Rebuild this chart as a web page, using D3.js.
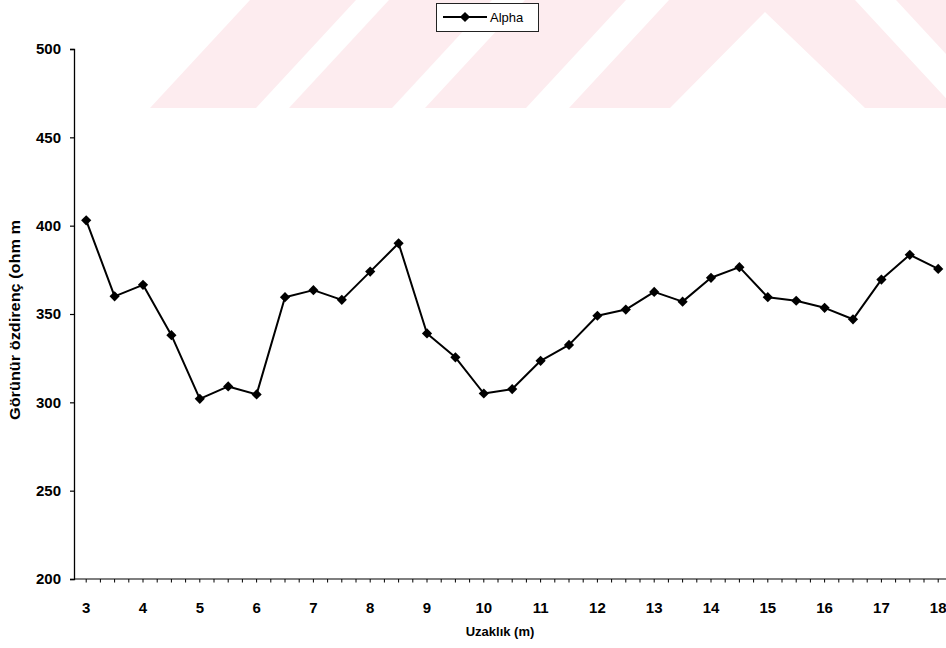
<!DOCTYPE html>
<html>
<head>
<meta charset="utf-8">
<script src="https://cdn.jsdelivr.net/npm/d3@7"></script>
<style>
  html, body { margin: 0; padding: 0; background: #fff; }
  svg { display: block; }
  text { font-family: "Liberation Sans", Arial, sans-serif; fill: #000; }
</style>
</head>
<body>
<script>
// Apparent resistivity profile along the survey line (Alpha array)
const distances = ["3","3.5","4","4.5","5","5.5","6","6.5","7","7.5","8","8.5","9","9.5","10","10.5",
                   "11","11.5","12","12.5","13","13.5","14","14.5","15","15.5","16","16.5","17","17.5","18"];
const alphaValues = [403, 360, 366.5, 338, 302, 309, 304.5, 359.5, 363.5, 358, 374, 390, 339, 325.5, 305, 307.5,
                     323.5, 332.5, 349, 352.5, 362.5, 357, 370.5, 376.5, 359.5, 357.5, 353.5, 347, 369.5, 383.5, 375.5];
const xTickLabels = ["3","4","5","6","7","8","9","10","11","12","13","14","15","16","17","18"];
const yTickValues = [200, 250, 300, 350, 400, 450, 500];
const seriesName = "Alpha";
const xTitle = "Uzaklık (m)";
const yTitle = "Görünür özdirenç (ohm m";

const W = 946, H = 648;
const svg = d3.select("body").append("svg").attr("width", W).attr("height", H);

// faint pink band with diagonal stripes across the top
const band = svg.append("g").attr("fill", "#fdecef");
const bandShapes = [
  [[150,108],[256,108],[356,0],[250,0]],
  [[289,108],[392,108],[492,0],[389,0]],
  [[425,108],[526,108],[626,0],[525,0]],
  [[569,108],[670,108],[765,12],[865,108],[955,108],[855,0],[669,0]],
  [[896,0],[1000,0],[1000,108],[996,108]]
];
band.selectAll("path").data(bandShapes).join("path")
  .attr("d", d => "M" + d.map(p => p.join(",")).join("L") + "Z");

// scales
const x = d3.scaleBand().domain(distances).range([72, 72 + 28.4 * distances.length]);
const y = d3.scaleLinear().domain([200, 500]).range([579, 49]);
const cx = d => x(d) + x.bandwidth() / 2;

// y axis
const yAxis = svg.append("g").attr("transform", "translate(74,0)")
  .call(d3.axisLeft(y).tickValues(yTickValues).tickSize(4).tickPadding(9));
yAxis.select(".domain").attr("stroke", "#000").attr("stroke-width", 1.3);
yAxis.selectAll(".tick line").attr("stroke", "#000").attr("stroke-width", 1.2);
yAxis.selectAll(".tick text")
  .attr("font-size", 15).attr("font-weight", "bold")
  .attr("font-family", "'Liberation Sans', Arial, sans-serif")
  .attr("fill", "#000");

// x axis: ticks at every band edge and center, labels on whole metres
const halfSteps = [];
distances.forEach(d => { halfSteps.push(x(d)); halfSteps.push(x(d) + x.bandwidth() / 2); });
const xg = svg.append("g");
xg.append("line").attr("x1", 74).attr("x2", W).attr("y1", 579).attr("y2", 579)
  .attr("stroke", "#000").attr("stroke-width", 1.2);
xg.selectAll("line.t").data(halfSteps.filter(v => v > 75 && v < W)).join("line")
  .attr("class", "t").attr("x1", d => d).attr("x2", d => d)
  .attr("y1", 579).attr("y2", 582.5).attr("stroke", "#000").attr("stroke-width", 1);
xg.selectAll("text").data(xTickLabels).join("text")
  .attr("x", d => cx(d)).attr("y", 613)
  .attr("text-anchor", "middle").attr("font-size", 15).attr("font-weight", "bold")
  .text(d => d);

// axis titles
svg.append("text").attr("x", 500).attr("y", 636).attr("text-anchor", "middle")
  .attr("font-size", 13).attr("font-weight", "bold").text(xTitle);
svg.append("text").attr("transform", "translate(20,320) rotate(-90)")
  .attr("text-anchor", "middle").attr("font-size", 14).attr("font-weight", "bold")
  .attr("textLength", 200).attr("lengthAdjust", "spacingAndGlyphs").text(yTitle);

// series line and markers
const pts = distances.map((d, i) => ({ d, v: alphaValues[i] }));
svg.append("path").datum(pts)
  .attr("fill", "none").attr("stroke", "#000").attr("stroke-width", 2)
  .attr("stroke-linejoin", "round")
  .attr("d", d3.line().x(p => cx(p.d)).y(p => y(p.v)));
const marker = d3.symbol(d3.symbolSquare, 52);
svg.selectAll("path.m").data(pts).join("path")
  .attr("class", "m").attr("fill", "#000")
  .attr("transform", p => `translate(${cx(p.d)},${y(p.v)}) rotate(45)`)
  .attr("d", marker);

// legend
const lg = svg.append("g");
lg.append("rect").attr("x", 436.5).attr("y", 3.5).attr("width", 102).attr("height", 28)
  .attr("fill", "#fff").attr("stroke", "#222").attr("stroke-width", 1);
lg.append("line").attr("x1", 443).attr("x2", 487).attr("y1", 17).attr("y2", 17)
  .attr("stroke", "#000").attr("stroke-width", 2);
lg.append("path").attr("transform", "translate(465,17) rotate(45)").attr("d", marker).attr("fill", "#000");
lg.append("text").attr("x", 490).attr("y", 22).attr("font-size", 13).text(seriesName);
</script>
</body>
</html>
